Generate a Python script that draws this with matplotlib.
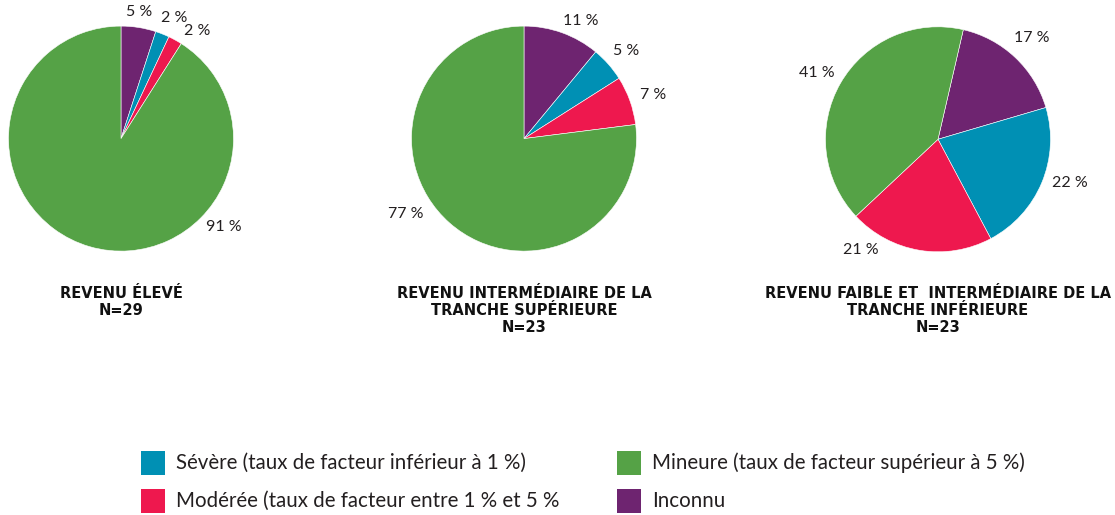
import matplotlib
matplotlib.use("Agg")
import matplotlib.pyplot as plt
from matplotlib.patches import Rectangle
import numpy as np

# Categories in drawing order (clockwise from the start angle)
categories = ["Inconnu", "Sévère", "Modérée", "Mineure"]
legend_labels = {
    "Sévère": "Sévère (taux de facteur inférieur à 1 %)",
    "Modérée": "Modérée (taux de facteur entre 1 % et 5 %",
    "Mineure": "Mineure (taux de facteur supérieur à 5 %)",
    "Inconnu": "Inconnu",
}

# Shares (%) per income group, same order as categories
revenu_eleve = [5, 2, 2, 91]
revenu_inter_sup = [11, 5, 7, 77]
revenu_faible_inter_inf = [17, 22, 21, 41]

titles = [
    ["REVENU ÉLEVÉ", "N=29"],
    ["REVENU INTERMÉDIAIRE DE LA", "TRANCHE SUPÉRIEURE", "N=23"],
    ["REVENU FAIBLE ET  INTERMÉDIAIRE DE LA", "TRANCHE INFÉRIEURE", "N=23"],
]

colors = {
    "Inconnu": "#6e2470",
    "Sévère": "#0090b4",
    "Modérée": "#ee184e",
    "Mineure": "#55a246",
}

W, H = 1115, 515
fig = plt.figure(figsize=(W / 100, H / 100), dpi=100)
fig.patch.set_facecolor("white")

# Pie geometry in pixels: centre x, centre y, radius, start angle
pie_specs = [
    (121.0, 138.6, 112.5, 90),
    (524.0, 138.6, 112.5, 90),
    (938.0, 139.3, 112.5, 77),
]
# Label placement: (angle in degrees, distance as fraction of radius)
label_pos = [
    [(81.9, 1.14), (66.3, 1.17), (54.7, 1.17), (-40.7, 1.21)],
    [(64.1, 1.16), (40.6, 1.195), (18.6, 1.21), (-147.4, 1.245)],
    [(47.4, 1.227), (-18.4, 1.232), (-125.0, 1.20), (151.4, 1.227)],
]

series = [revenu_eleve, revenu_inter_sup, revenu_faible_inter_inf]
text_color = "#231f20"
label_font = ["Lato", "DejaVu Sans"]

for vals, (cx, cy, r, start), lpos, title in zip(series, pie_specs, label_pos, titles):
    ax = fig.add_axes([(cx - r) / W, 1 - (cy + r) / H, 2 * r / W, 2 * r / H])
    ax.pie(vals, colors=[colors[c] for c in categories], startangle=start,
           counterclock=False, radius=1.0,
           wedgeprops=dict(edgecolor="white", linewidth=0.4))
    ax.set_xlim(-1, 1)
    ax.set_ylim(-1, 1)
    ax.axis("off")
    for v, (ang, dist) in zip(vals, lpos):
        a = np.deg2rad(ang)
        ax.text(dist * np.cos(a), dist * np.sin(a), f"{v} %", ha="center", va="center",
                fontsize=11.5, color=text_color, family=label_font, fontweight="normal",
                clip_on=False)
    for i, line in enumerate(title):
        fig.text(cx / W, 1 - (293 + 17.5 * i) / H, line, ha="center", va="center",
                 fontsize=10.5, fontweight="bold", color="#111111", family="DejaVu Sans")

# Legend drawn in figure pixel coordinates
legend_layout = [
    ("Sévère", 141, 463),
    ("Modérée", 141, 501),
    ("Mineure", 617, 463),
    ("Inconnu", 617, 501),
]
box = 24
for cat, x0, yc in legend_layout:
    fig.patches.append(Rectangle((x0 / W, 1 - (yc + box / 2) / H), box / W, box / H,
                                 transform=fig.transFigure, facecolor=colors[cat],
                                 edgecolor="none"))
    fig.text((x0 + 35) / W, 1 - yc / H, legend_labels[cat], ha="left", va="center",
             fontsize=14.8, color=text_color, family=label_font, fontweight="normal")

fig.savefig("out.png", dpi=100, facecolor="white")
